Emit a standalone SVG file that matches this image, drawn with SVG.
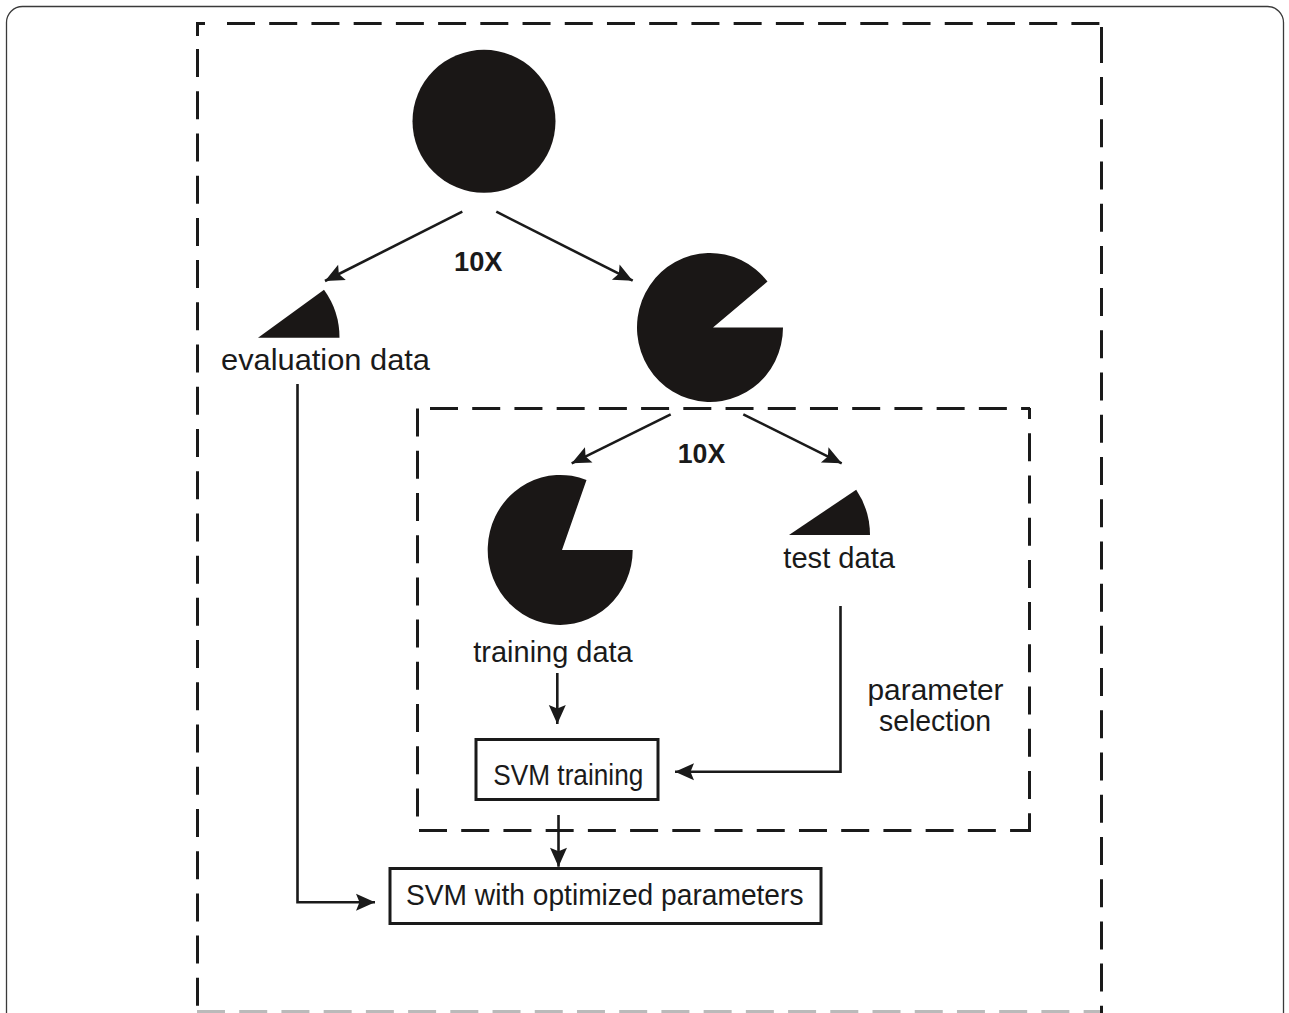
<svg xmlns="http://www.w3.org/2000/svg" width="1289" height="1013" viewBox="0 0 1289 1013">
<style>
.txt{font-family:"Liberation Sans",Arial,sans-serif;font-size:30px;fill:#1a1a1a}
.bold{font-weight:bold;font-size:27px}
.dash{stroke:#1a1a1a;stroke-width:3;fill:none;stroke-dasharray:28 14.22}
.solid{stroke:#1a1a1a;stroke-width:3;fill:none}
.conn{stroke:#1a1a1a;stroke-width:2.6;fill:none;marker-end:url(#ah)}
.pie{fill:#1a1716}
.box{fill:#fff;stroke:#1a1a1a;stroke-width:3}
</style>
<defs>
<marker id="ah" markerUnits="userSpaceOnUse" markerWidth="22" markerHeight="20" refX="19" refY="8.5" orient="auto" overflow="visible">
<path d="M0,0 L19,8.5 L0,17 L3.5,8.5 Z" fill="#1a1a1a"/>
</marker>
</defs>
<rect x="0" y="0" width="1289" height="1013" fill="#fff"/>
<rect x="6.5" y="6.5" width="1277" height="1040" rx="16" fill="none" stroke="#3a3a3a" stroke-width="1.3"/>

<g id="outer-box">
<path class="solid" d="M197.5,36 V23.5 H205"/>
<line class="dash" x1="227" y1="23.5" x2="1102" y2="23.5"/>
<line class="dash" x1="197.5" y1="49" x2="197.5" y2="1013"/>
<path class="solid" d="M1101.5,27 V63"/>
<line class="dash" x1="1101.5" y1="77" x2="1101.5" y2="1013"/>
<line class="dash" x1="197" y1="1011.5" x2="1102" y2="1011.5" stroke-opacity="0.3"/>
</g>

<g id="inner-box">
<line class="dash" x1="417.5" y1="408.5" x2="417.5" y2="830"/>
<line class="dash" x1="430" y1="408.5" x2="1030" y2="408.5"/>
<line class="dash" x1="1029.5" y1="408" x2="1029.5" y2="830" style="stroke-dashoffset:17"/>
<line class="dash" x1="419" y1="830.5" x2="1031" y2="830.5"/>
</g>

<g id="all-data">
<circle class="pie" cx="484" cy="121.3" r="71.5"/>
</g>

<g id="label-10x-outer">
<text class="txt bold" x="454" y="270.7" textLength="48.5" lengthAdjust="spacingAndGlyphs">10X</text>
</g>

<g id="evaluation-data">
<path class="pie" d="M258,337.7 L339.5,337.7 A81.5,81.5 0 0 0 324,289.8 Z"/>
<text class="txt" x="221" y="370" textLength="209" lengthAdjust="spacingAndGlyphs">evaluation data</text>
</g>

<g id="remaining-data">
<path class="pie" d="M713,327.5 L783,327.5 A73,74.5 0 1 1 767.5,281.6 Z"/>
</g>

<g id="label-10x-inner">
<text class="txt bold" x="677.7" y="463.3" textLength="47.5" lengthAdjust="spacingAndGlyphs">10X</text>
</g>

<g id="training-data">
<path class="pie" d="M562,550 L632.7,550 A72.5,75 0 1 1 586.5,480 Z"/>
<text class="txt" x="473.3" y="661.7" textLength="159.4" lengthAdjust="spacingAndGlyphs">training data</text>
</g>

<g id="test-data">
<path class="pie" d="M789,535 L870,535 A81,81 0 0 0 856.2,489.7 Z"/>
<text class="txt" x="783.3" y="568.3" textLength="111.7" lengthAdjust="spacingAndGlyphs">test data</text>
</g>

<g id="parameter-selection">
<text class="txt" x="867.5" y="700" textLength="136" lengthAdjust="spacingAndGlyphs">parameter</text>
<text class="txt" x="879" y="731" textLength="112" lengthAdjust="spacingAndGlyphs">selection</text>
</g>

<g id="svm-training">
<rect class="box" x="476" y="739.5" width="182" height="60"/>
<text class="txt" x="493.3" y="785" textLength="150" lengthAdjust="spacingAndGlyphs">SVM training</text>
</g>

<g id="svm-optimized">
<rect class="box" x="390" y="868.5" width="431" height="55"/>
<text class="txt" x="406" y="905" textLength="397.5" lengthAdjust="spacingAndGlyphs">SVM with optimized parameters</text>
</g>

<g id="connectors">
<line class="conn" x1="462.3" y1="211.7" x2="325" y2="281"/>
<line class="conn" x1="496.3" y1="211.7" x2="632.7" y2="280.7"/>
<line class="conn" x1="670.7" y1="414.3" x2="571.7" y2="463.3"/>
<line class="conn" x1="743.3" y1="414.3" x2="841.7" y2="463.3"/>
<line class="conn" x1="557.3" y1="673" x2="557.3" y2="724"/>
<polyline class="conn" points="840.5,606 840.5,771.7 675,771.7"/>
<line class="conn" x1="558.5" y1="815" x2="558.5" y2="866.7"/>
<polyline class="conn" points="297.5,384 297.5,902.3 375,902.3"/>
</g>
</svg>
